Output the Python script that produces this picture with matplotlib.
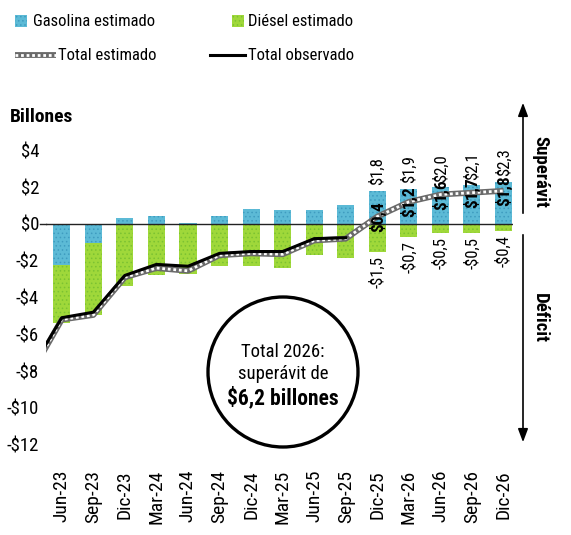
import numpy as np
import matplotlib
matplotlib.use("Agg")
import matplotlib.pyplot as plt
from matplotlib import font_manager
from matplotlib.patches import Rectangle, Ellipse
from matplotlib.lines import Line2D

# ---------------- data ----------------
categories = ["Jun-23", "Sep-23", "Dic-23", "Mar-24", "Jun-24", "Sep-24", "Dic-24",
              "Mar-25", "Jun-25", "Sep-25", "Dic-25", "Mar-26", "Jun-26", "Sep-26", "Dic-26"]
gasolina = [-2.25, -1.05, 0.35, 0.45, 0.05, 0.45, 0.8, 0.75, 0.78, 1.05, 1.8, 1.9, 2.0, 2.1, 2.3]
diesel = [-3.15, -3.9, -3.4, -2.8, -2.7, -2.3, -2.3, -2.4, -1.7, -1.85, -1.5, -0.7, -0.5, -0.5, -0.4]
# line values start one quarter earlier (Mar-23), clipped by the axis
total_estimado = [-8.2, -5.2, -4.95, -2.9, -2.4, -2.55, -1.7, -1.6, -1.65, -0.9, -0.8,
                  0.4, 1.2, 1.6, 1.7, 1.8]
total_observado = [-8.0, -5.1, -4.8, -2.8, -2.2, -2.3, -1.6, -1.5, -1.5, -0.8, -0.75]
forecast_start = 10  # index of first labelled (forecast) quarter
yticks = [4, 2, 0, -2, -4, -6, -8, -10, -12]

# ---------------- font: look for a narrow / condensed face ----------------
cands = []
for f in font_manager.fontManager.ttflist:
    fn = f.fname.lower()
    if ("narrow" in fn or "condensed" in fn) and "bold" not in fn and "italic" not in fn \
            and "oblique" not in fn and "mono" not in fn and "serif" not in fn.replace("sans", ""):
        cands.append(f)
pref = ["liberationsansnarrow", "opensans", "roboto", "notosans", "dejavusanscondensed"]
def rank(f):
    fn = f.fname.lower().replace("-", "").replace("_", "")
    for i, p in enumerate(pref):
        if p in fn:
            return i
    return 99
cands.sort(key=rank)
if cands:
    FAM = cands[0].name
    STRETCH = cands[0].stretch
else:
    FAM = "Liberation Sans"
    STRETCH = "normal"
plt.rcParams["font.family"] = [FAM, "DejaVu Sans"]
plt.rcParams["font.stretch"] = STRETCH
plt.rcParams["hatch.linewidth"] = 0.6

C_GAS = "#5cbad6"
C_GAS_DOT = "#3f9cc0"
C_DIE = "#9fd83a"
C_DIE_DOT = "#7cc232"
C_EST = "#6a6a6a"

W, H = 571, 535
fig = plt.figure(figsize=(W / 100, H / 100), dpi=100)

def fx(px):
    return px / W

def fy(py):
    return 1 - py / H

ax_left, ax_right, ax_top, ax_bot = 46, 513, 132, 463
ax = fig.add_axes([fx(ax_left), fy(ax_bot), (ax_right - ax_left) / W, (ax_bot - ax_top) / H])

x = np.arange(len(categories))
bw = 0.54
gas = np.array(gasolina)
die = np.array(diesel)
die_bottom = np.where(gas < 0, gas, 0)
ax.bar(x, gas, width=bw, color=C_GAS, edgecolor=C_GAS_DOT, linewidth=0, hatch="....", zorder=2)
ax.bar(x, die, bottom=die_bottom, width=bw, color=C_DIE, edgecolor=C_DIE_DOT, linewidth=0,
       hatch="....", zorder=2)

ax.axhline(0, color="#222222", lw=1.0, zorder=3)
# short extension of the zero line toward the "$0" label
ax.plot([-0.7, -0.5], [0, 0], color="#222222", lw=1.0, clip_on=False, zorder=3)

xe = np.arange(-1, len(total_estimado) - 1)
xo = np.arange(-1, len(total_observado) - 1)
ax.plot(xe, total_estimado, color=C_EST, lw=4.2, solid_capstyle="butt", zorder=4)
ax.plot(xe, total_estimado, color="white", lw=2.0, dashes=(1.0, 1.0), zorder=4.5)
ax.plot(xo, total_observado, color="black", lw=2.2, zorder=5)

def fmt(v):
    s = f"{abs(v):.1f}".replace(".", ",")
    return ("-$" if v < 0 else "$") + s

for i in range(forecast_start, len(categories)):
    ax.annotate(fmt(gasolina[i]), (x[i], gasolina[i]), xytext=(0, 4), textcoords="offset points",
                rotation=90, ha="center", va="bottom", fontsize=12, zorder=6)
    ax.annotate(fmt(diesel[i]), (x[i], diesel[i]), xytext=(0, -3), textcoords="offset points",
                rotation=90, ha="center", va="top", fontsize=12, zorder=6)
    ax.text(x[i], total_estimado[i + 1], fmt(total_estimado[i + 1]), rotation=90, ha="center",
            va="center", fontsize=12.5, fontweight="bold", zorder=7)

ax.set_xlim(-0.5, len(categories) - 0.7)
ax.set_ylim(-13, 5)
ax.set_xticks(x)
ax.set_xticklabels(categories, rotation=90, fontsize=14)
ax.set_yticks(yticks)
ax.set_yticklabels([("-$" if v < 0 else "$") + str(abs(v)) for v in yticks], fontsize=13.5)
ax.tick_params(axis="both", length=0, pad=5)
for s in ax.spines.values():
    s.set_visible(False)

cx, cy, r = 283, 372, 75
circ = Ellipse((fx(cx), fy(cy)), 2 * r / W, 2 * r / H, transform=fig.transFigure,
               facecolor="white", edgecolor="black", lw=2.4, zorder=8)
fig.add_artist(circ)
fig.text(fx(cx), fy(352), "Total 2026:", ha="center", va="center", fontsize=13.5, zorder=9)
fig.text(fx(cx), fy(374), "superávit de", ha="center", va="center", fontsize=13.5, zorder=9)
fig.text(fx(cx), fy(398), "$6,2 billones", ha="center", va="center", fontsize=15.5,
         fontweight="bold", zorder=9)

fig.text(fx(10), fy(117), "Billones", ha="left", va="center", fontsize=14, fontweight="bold")

ax.annotate("", xy=(fx(523), fy(100)), xytext=(fx(523), fy(216)), xycoords="figure fraction",
            textcoords="figure fraction",
            arrowprops=dict(arrowstyle="-|>,head_length=0.8,head_width=0.3", color="black", lw=1.2))
ax.annotate("", xy=(fx(523), fy(445)), xytext=(fx(523), fy(232)), xycoords="figure fraction",
            textcoords="figure fraction",
            arrowprops=dict(arrowstyle="-|>,head_length=0.8,head_width=0.3", color="black", lw=1.2))
fig.text(fx(540), fy(172), "Superávit", rotation=-90, ha="center", va="center", fontsize=13.5,
         fontweight="bold")
fig.text(fx(540), fy(318), "Déficit", rotation=-90, ha="center", va="center", fontsize=13.5,
         fontweight="bold")

fig.add_artist(Rectangle((fx(15), fy(27)), 12 / W, 12 / H, transform=fig.transFigure,
                         facecolor=C_GAS, edgecolor=C_GAS_DOT, lw=0, hatch="...."))
fig.text(fx(33), fy(21), "Gasolina estimado", ha="left", va="center", fontsize=12)
fig.add_artist(Rectangle((fx(232), fy(27)), 12 / W, 12 / H, transform=fig.transFigure,
                         facecolor=C_DIE, edgecolor=C_DIE_DOT, lw=0, hatch="...."))
fig.text(fx(248), fy(21), "Diésel estimado", ha="left", va="center", fontsize=12)
fig.add_artist(Line2D([fx(15), fx(56)], [fy(55), fy(55)], transform=fig.transFigure,
                      color=C_EST, lw=4.2, solid_capstyle="butt"))
fig.add_artist(Line2D([fx(15), fx(56)], [fy(55), fy(55)], transform=fig.transFigure,
                      color="white", lw=2.0, dashes=(1.0, 1.0)))
fig.text(fx(58), fy(55), "Total estimado", ha="left", va="center", fontsize=12)
fig.add_artist(Line2D([fx(210), fx(245)], [fy(55), fy(55)], transform=fig.transFigure,
                      color="black", lw=2.2))
fig.text(fx(248), fy(55), "Total observado", ha="left", va="center", fontsize=12)

fig.savefig("out.png", dpi=100)
